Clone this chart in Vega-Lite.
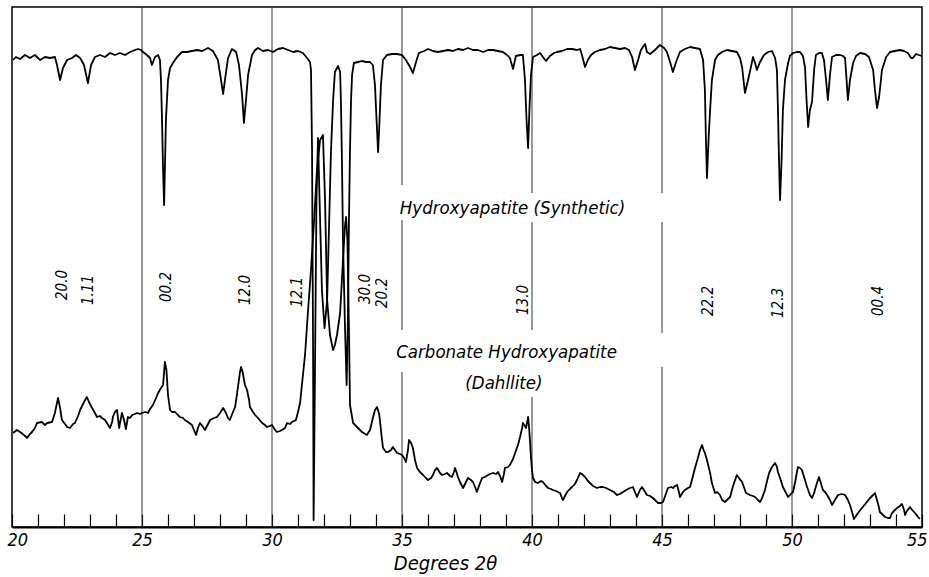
{
"$schema": "https://vega.github.io/schema/vega-lite/v6.json",
"width": 910, "height": 520,
"autosize": "none",
"padding": {"left": 12, "top": 7, "right": 7, "bottom": 50},
"background": "white",
"config": {"view": {"stroke": "black", "strokeWidth": 1.5}, "font": "DejaVu Sans Condensed, DejaVu Sans, sans-serif"},
"datasets": {
"grid": [
{"x":25,"y":0,"y2":520},{"x":30,"y":0,"y2":520},
{"x":35,"y":342,"y2":520},{"x":35,"y":197,"y2":307},{"x":35,"y":0,"y2":155},
{"x":40,"y":334,"y2":520},{"x":40,"y":197,"y2":305},{"x":40,"y":0,"y2":130},
{"x":45,"y":334,"y2":520},{"x":45,"y":194,"y2":305},{"x":45,"y":0,"y2":160},
{"x":50,"y":0,"y2":520}
],
"names": [
{"t":"Hydroxyapatite (Synthetic)","x":39.25,"y":319},
{"t":"Carbonate Hydroxyapatite","x":39.02,"y":175},
{"t":"(Dahllite)","x":38.92,"y":144}
],
"hkl": [
{"t":"20.0","x":21.92,"y":242},
{"t":"1.11","x":22.92,"y":237},
{"t":"00.2","x":25.92,"y":240},
{"t":"12.0","x":28.96,"y":237},
{"t":"12.1","x":30.96,"y":235},
{"t":"30.0","x":33.58,"y":238},
{"t":"20.2","x":34.23,"y":234},
{"t":"13.0","x":39.65,"y":227},
{"t":"22.2","x":46.77,"y":226},
{"t":"12.3","x":49.46,"y":224},
{"t":"00.4","x":53.31,"y":226}
],
"curves": [
{"s":"H","x":20.04,"y":467},{"s":"H","x":20.15,"y":470},{"s":"H","x":20.31,"y":468},{"s":"H","x":20.50,"y":472},{"s":"H","x":20.69,"y":469},{"s":"H","x":20.88,"y":472},{"s":"H","x":21.08,"y":467},{"s":"H","x":21.27,"y":470},{"s":"H","x":21.46,"y":469},{"s":"H","x":21.65,"y":470},{"s":"H","x":21.73,"y":462},{"s":"H","x":21.85,"y":447},{"s":"H","x":21.96,"y":459},{"s":"H","x":22.12,"y":467},{"s":"H","x":22.31,"y":469},{"s":"H","x":22.46,"y":472},{"s":"H","x":22.62,"y":469},{"s":"H","x":22.77,"y":462},{"s":"H","x":22.92,"y":444},{"s":"H","x":23.04,"y":462},{"s":"H","x":23.19,"y":470},{"s":"H","x":23.38,"y":472},{"s":"H","x":23.58,"y":470},{"s":"H","x":23.77,"y":474},{"s":"H","x":23.96,"y":472},{"s":"H","x":24.15,"y":474},{"s":"H","x":24.35,"y":472},{"s":"H","x":24.54,"y":475},{"s":"H","x":24.73,"y":477},{"s":"H","x":24.85,"y":478},{"s":"H","x":24.96,"y":477},{"s":"H","x":25.04,"y":475},{"s":"H","x":25.19,"y":472},{"s":"H","x":25.31,"y":469},{"s":"H","x":25.38,"y":462},{"s":"H","x":25.50,"y":470},{"s":"H","x":25.62,"y":472},{"s":"H","x":25.69,"y":467},{"s":"H","x":25.73,"y":447},{"s":"H","x":25.77,"y":407},{"s":"H","x":25.81,"y":357},{"s":"H","x":25.85,"y":322},{"s":"H","x":25.88,"y":357},{"s":"H","x":25.92,"y":407},{"s":"H","x":26.00,"y":447},{"s":"H","x":26.08,"y":459},{"s":"H","x":26.19,"y":464},{"s":"H","x":26.35,"y":470},{"s":"H","x":26.54,"y":475},{"s":"H","x":26.73,"y":475},{"s":"H","x":26.92,"y":476},{"s":"H","x":27.12,"y":477},{"s":"H","x":27.31,"y":476},{"s":"H","x":27.54,"y":479},{"s":"H","x":27.73,"y":476},{"s":"H","x":27.92,"y":467},{"s":"H","x":28.04,"y":447},{"s":"H","x":28.12,"y":433},{"s":"H","x":28.19,"y":447},{"s":"H","x":28.31,"y":469},{"s":"H","x":28.46,"y":478},{"s":"H","x":28.62,"y":475},{"s":"H","x":28.73,"y":462},{"s":"H","x":28.85,"y":432},{"s":"H","x":28.92,"y":404},{"s":"H","x":29.00,"y":427},{"s":"H","x":29.08,"y":452},{"s":"H","x":29.23,"y":472},{"s":"H","x":29.35,"y":477},{"s":"H","x":29.46,"y":479},{"s":"H","x":29.65,"y":476},{"s":"H","x":29.85,"y":477},{"s":"H","x":30.04,"y":475},{"s":"H","x":30.23,"y":478},{"s":"H","x":30.42,"y":479},{"s":"H","x":30.62,"y":477},{"s":"H","x":30.81,"y":475},{"s":"H","x":31.00,"y":476},{"s":"H","x":31.19,"y":474},{"s":"H","x":31.35,"y":469},{"s":"H","x":31.46,"y":465},{"s":"H","x":31.50,"y":457},{"s":"H","x":31.54,"y":377},{"s":"H","x":31.58,"y":177},{"s":"H","x":31.60,"y":7},{"s":"H","x":31.65,"y":147},{"s":"H","x":31.71,"y":327},{"s":"H","x":31.77,"y":389},{"s":"H","x":31.83,"y":327},{"s":"H","x":31.92,"y":237},{"s":"H","x":32.02,"y":199},{"s":"H","x":32.12,"y":227},{"s":"H","x":32.19,"y":297},{"s":"H","x":32.27,"y":377},{"s":"H","x":32.35,"y":427},{"s":"H","x":32.42,"y":455},{"s":"H","x":32.54,"y":461},{"s":"H","x":32.62,"y":455},{"s":"H","x":32.65,"y":427},{"s":"H","x":32.69,"y":367},{"s":"H","x":32.73,"y":287},{"s":"H","x":32.81,"y":197},{"s":"H","x":32.87,"y":142},{"s":"H","x":32.92,"y":207},{"s":"H","x":32.96,"y":307},{"s":"H","x":33.00,"y":377},{"s":"H","x":33.04,"y":427},{"s":"H","x":33.08,"y":452},{"s":"H","x":33.15,"y":464},{"s":"H","x":33.31,"y":465},{"s":"H","x":33.46,"y":466},{"s":"H","x":33.62,"y":465},{"s":"H","x":33.77,"y":465},{"s":"H","x":33.88,"y":462},{"s":"H","x":33.96,"y":442},{"s":"H","x":34.04,"y":397},{"s":"H","x":34.08,"y":375},{"s":"H","x":34.12,"y":397},{"s":"H","x":34.19,"y":442},{"s":"H","x":34.27,"y":467},{"s":"H","x":34.42,"y":472},{"s":"H","x":34.62,"y":473},{"s":"H","x":34.81,"y":473},{"s":"H","x":35.00,"y":472},{"s":"H","x":35.15,"y":467},{"s":"H","x":35.31,"y":460},{"s":"H","x":35.42,"y":454},{"s":"H","x":35.54,"y":465},{"s":"H","x":35.65,"y":474},{"s":"H","x":35.85,"y":476},{"s":"H","x":36.00,"y":478},{"s":"H","x":36.19,"y":476},{"s":"H","x":36.38,"y":475},{"s":"H","x":36.58,"y":476},{"s":"H","x":36.77,"y":477},{"s":"H","x":36.96,"y":476},{"s":"H","x":37.15,"y":478},{"s":"H","x":37.35,"y":477},{"s":"H","x":37.54,"y":479},{"s":"H","x":37.73,"y":477},{"s":"H","x":37.92,"y":477},{"s":"H","x":38.12,"y":475},{"s":"H","x":38.31,"y":477},{"s":"H","x":38.50,"y":477},{"s":"H","x":38.69,"y":476},{"s":"H","x":38.88,"y":475},{"s":"H","x":39.04,"y":472},{"s":"H","x":39.15,"y":469},{"s":"H","x":39.27,"y":458},{"s":"H","x":39.38,"y":471},{"s":"H","x":39.54,"y":472},{"s":"H","x":39.65,"y":472},{"s":"H","x":39.73,"y":447},{"s":"H","x":39.79,"y":407},{"s":"H","x":39.85,"y":379},{"s":"H","x":39.90,"y":417},{"s":"H","x":39.96,"y":452},{"s":"H","x":40.04,"y":470},{"s":"H","x":40.19,"y":472},{"s":"H","x":40.31,"y":474},{"s":"H","x":40.42,"y":470},{"s":"H","x":40.54,"y":466},{"s":"H","x":40.69,"y":471},{"s":"H","x":40.85,"y":474},{"s":"H","x":40.96,"y":475},{"s":"H","x":41.15,"y":476},{"s":"H","x":41.35,"y":478},{"s":"H","x":41.54,"y":478},{"s":"H","x":41.73,"y":477},{"s":"H","x":41.85,"y":478},{"s":"H","x":41.92,"y":472},{"s":"H","x":42.04,"y":460},{"s":"H","x":42.15,"y":467},{"s":"H","x":42.27,"y":472},{"s":"H","x":42.42,"y":475},{"s":"H","x":42.62,"y":477},{"s":"H","x":42.81,"y":478},{"s":"H","x":43.00,"y":480},{"s":"H","x":43.19,"y":479},{"s":"H","x":43.38,"y":478},{"s":"H","x":43.58,"y":479},{"s":"H","x":43.73,"y":477},{"s":"H","x":43.85,"y":470},{"s":"H","x":43.96,"y":457},{"s":"H","x":44.08,"y":467},{"s":"H","x":44.19,"y":477},{"s":"H","x":44.27,"y":480},{"s":"H","x":44.35,"y":483},{"s":"H","x":44.42,"y":475},{"s":"H","x":44.54,"y":473},{"s":"H","x":44.73,"y":477},{"s":"H","x":44.92,"y":482},{"s":"H","x":45.08,"y":479},{"s":"H","x":45.19,"y":475},{"s":"H","x":45.31,"y":465},{"s":"H","x":45.42,"y":455},{"s":"H","x":45.54,"y":465},{"s":"H","x":45.69,"y":475},{"s":"H","x":45.88,"y":478},{"s":"H","x":46.08,"y":480},{"s":"H","x":46.27,"y":479},{"s":"H","x":46.46,"y":478},{"s":"H","x":46.58,"y":467},{"s":"H","x":46.65,"y":437},{"s":"H","x":46.69,"y":387},{"s":"H","x":46.73,"y":349},{"s":"H","x":46.79,"y":387},{"s":"H","x":46.85,"y":417},{"s":"H","x":46.92,"y":447},{"s":"H","x":47.04,"y":467},{"s":"H","x":47.15,"y":472},{"s":"H","x":47.31,"y":475},{"s":"H","x":47.50,"y":477},{"s":"H","x":47.69,"y":476},{"s":"H","x":47.88,"y":475},{"s":"H","x":48.00,"y":469},{"s":"H","x":48.08,"y":460},{"s":"H","x":48.19,"y":434},{"s":"H","x":48.31,"y":447},{"s":"H","x":48.38,"y":455},{"s":"H","x":48.46,"y":465},{"s":"H","x":48.50,"y":470},{"s":"H","x":48.58,"y":464},{"s":"H","x":48.65,"y":457},{"s":"H","x":48.77,"y":465},{"s":"H","x":48.92,"y":472},{"s":"H","x":49.08,"y":475},{"s":"H","x":49.23,"y":476},{"s":"H","x":49.35,"y":469},{"s":"H","x":49.42,"y":457},{"s":"H","x":49.46,"y":417},{"s":"H","x":49.50,"y":367},{"s":"H","x":49.54,"y":327},{"s":"H","x":49.60,"y":367},{"s":"H","x":49.65,"y":417},{"s":"H","x":49.73,"y":447},{"s":"H","x":49.85,"y":464},{"s":"H","x":49.92,"y":471},{"s":"H","x":50.04,"y":474},{"s":"H","x":50.19,"y":475},{"s":"H","x":50.31,"y":475},{"s":"H","x":50.42,"y":471},{"s":"H","x":50.50,"y":460},{"s":"H","x":50.56,"y":427},{"s":"H","x":50.62,"y":400},{"s":"H","x":50.69,"y":417},{"s":"H","x":50.77,"y":425},{"s":"H","x":50.85,"y":457},{"s":"H","x":50.92,"y":472},{"s":"H","x":51.04,"y":474},{"s":"H","x":51.15,"y":474},{"s":"H","x":51.23,"y":467},{"s":"H","x":51.31,"y":447},{"s":"H","x":51.38,"y":427},{"s":"H","x":51.46,"y":452},{"s":"H","x":51.54,"y":470},{"s":"H","x":51.69,"y":472},{"s":"H","x":51.85,"y":472},{"s":"H","x":51.96,"y":471},{"s":"H","x":52.04,"y":469},{"s":"H","x":52.10,"y":447},{"s":"H","x":52.15,"y":427},{"s":"H","x":52.23,"y":447},{"s":"H","x":52.35,"y":464},{"s":"H","x":52.46,"y":471},{"s":"H","x":52.62,"y":474},{"s":"H","x":52.81,"y":473},{"s":"H","x":52.96,"y":470},{"s":"H","x":53.12,"y":457},{"s":"H","x":53.19,"y":437},{"s":"H","x":53.27,"y":419},{"s":"H","x":53.35,"y":430},{"s":"H","x":53.46,"y":457},{"s":"H","x":53.62,"y":470},{"s":"H","x":53.77,"y":475},{"s":"H","x":53.96,"y":476},{"s":"H","x":54.15,"y":477},{"s":"H","x":54.31,"y":476},{"s":"H","x":54.46,"y":474},{"s":"H","x":54.58,"y":469},{"s":"H","x":54.65,"y":469},{"s":"H","x":54.77,"y":473},{"s":"H","x":54.88,"y":472},{"s":"H","x":55.00,"y":471},
{"s":"C","x":20.04,"y":94},{"s":"C","x":20.19,"y":97},{"s":"C","x":20.31,"y":95},{"s":"C","x":20.46,"y":92},{"s":"C","x":20.58,"y":89},{"s":"C","x":20.69,"y":93},{"s":"C","x":20.77,"y":95},{"s":"C","x":20.88,"y":99},{"s":"C","x":20.96,"y":104},{"s":"C","x":21.15,"y":105},{"s":"C","x":21.27,"y":102},{"s":"C","x":21.35,"y":104},{"s":"C","x":21.54,"y":105},{"s":"C","x":21.65,"y":114},{"s":"C","x":21.77,"y":129},{"s":"C","x":21.85,"y":119},{"s":"C","x":21.92,"y":107},{"s":"C","x":22.04,"y":103},{"s":"C","x":22.12,"y":100},{"s":"C","x":22.23,"y":99},{"s":"C","x":22.35,"y":103},{"s":"C","x":22.42,"y":104},{"s":"C","x":22.54,"y":111},{"s":"C","x":22.62,"y":117},{"s":"C","x":22.77,"y":125},{"s":"C","x":22.88,"y":130},{"s":"C","x":22.96,"y":125},{"s":"C","x":23.08,"y":119},{"s":"C","x":23.19,"y":114},{"s":"C","x":23.27,"y":110},{"s":"C","x":23.38,"y":111},{"s":"C","x":23.46,"y":109},{"s":"C","x":23.58,"y":107},{"s":"C","x":23.65,"y":104},{"s":"C","x":23.77,"y":99},{"s":"C","x":23.85,"y":105},{"s":"C","x":23.88,"y":110},{"s":"C","x":23.96,"y":115},{"s":"C","x":24.04,"y":117},{"s":"C","x":24.12,"y":99},{"s":"C","x":24.19,"y":109},{"s":"C","x":24.23,"y":114},{"s":"C","x":24.31,"y":107},{"s":"C","x":24.38,"y":98},{"s":"C","x":24.46,"y":110},{"s":"C","x":24.54,"y":109},{"s":"C","x":24.62,"y":112},{"s":"C","x":24.73,"y":113},{"s":"C","x":24.81,"y":114},{"s":"C","x":24.92,"y":113},{"s":"C","x":25.00,"y":114},{"s":"C","x":25.12,"y":115},{"s":"C","x":25.23,"y":114},{"s":"C","x":25.31,"y":118},{"s":"C","x":25.42,"y":122},{"s":"C","x":25.54,"y":129},{"s":"C","x":25.62,"y":134},{"s":"C","x":25.73,"y":139},{"s":"C","x":25.81,"y":142},{"s":"C","x":25.85,"y":155},{"s":"C","x":25.88,"y":165},{"s":"C","x":25.94,"y":157},{"s":"C","x":26.00,"y":132},{"s":"C","x":26.08,"y":117},{"s":"C","x":26.15,"y":115},{"s":"C","x":26.27,"y":115},{"s":"C","x":26.38,"y":112},{"s":"C","x":26.46,"y":110},{"s":"C","x":26.58,"y":109},{"s":"C","x":26.65,"y":107},{"s":"C","x":26.77,"y":105},{"s":"C","x":26.92,"y":102},{"s":"C","x":27.00,"y":97},{"s":"C","x":27.08,"y":92},{"s":"C","x":27.15,"y":99},{"s":"C","x":27.23,"y":104},{"s":"C","x":27.35,"y":100},{"s":"C","x":27.42,"y":97},{"s":"C","x":27.54,"y":103},{"s":"C","x":27.62,"y":107},{"s":"C","x":27.77,"y":109},{"s":"C","x":27.88,"y":110},{"s":"C","x":28.00,"y":114},{"s":"C","x":28.12,"y":119},{"s":"C","x":28.23,"y":114},{"s":"C","x":28.31,"y":109},{"s":"C","x":28.38,"y":107},{"s":"C","x":28.50,"y":115},{"s":"C","x":28.58,"y":120},{"s":"C","x":28.65,"y":132},{"s":"C","x":28.69,"y":140},{"s":"C","x":28.77,"y":155},{"s":"C","x":28.81,"y":160},{"s":"C","x":28.87,"y":155},{"s":"C","x":28.96,"y":142},{"s":"C","x":29.04,"y":137},{"s":"C","x":29.12,"y":127},{"s":"C","x":29.15,"y":120},{"s":"C","x":29.27,"y":115},{"s":"C","x":29.35,"y":112},{"s":"C","x":29.46,"y":109},{"s":"C","x":29.62,"y":104},{"s":"C","x":29.73,"y":102},{"s":"C","x":29.81,"y":100},{"s":"C","x":29.92,"y":101},{"s":"C","x":30.00,"y":102},{"s":"C","x":30.12,"y":97},{"s":"C","x":30.19,"y":95},{"s":"C","x":30.31,"y":96},{"s":"C","x":30.38,"y":97},{"s":"C","x":30.50,"y":99},{"s":"C","x":30.58,"y":104},{"s":"C","x":30.69,"y":103},{"s":"C","x":30.77,"y":105},{"s":"C","x":30.85,"y":106},{"s":"C","x":30.92,"y":107},{"s":"C","x":31.00,"y":115},{"s":"C","x":31.08,"y":124},{"s":"C","x":31.19,"y":152},{"s":"C","x":31.27,"y":172},{"s":"C","x":31.38,"y":214},{"s":"C","x":31.50,"y":257},{"s":"C","x":31.62,"y":307},{"s":"C","x":31.73,"y":357},{"s":"C","x":31.85,"y":387},{"s":"C","x":31.96,"y":392},{"s":"C","x":32.04,"y":327},{"s":"C","x":32.12,"y":227},{"s":"C","x":32.23,"y":192},{"s":"C","x":32.35,"y":177},{"s":"C","x":32.42,"y":182},{"s":"C","x":32.50,"y":192},{"s":"C","x":32.62,"y":214},{"s":"C","x":32.73,"y":267},{"s":"C","x":32.81,"y":302},{"s":"C","x":32.85,"y":310},{"s":"C","x":32.90,"y":287},{"s":"C","x":32.96,"y":197},{"s":"C","x":33.00,"y":122},{"s":"C","x":33.12,"y":104},{"s":"C","x":33.27,"y":100},{"s":"C","x":33.46,"y":95},{"s":"C","x":33.65,"y":92},{"s":"C","x":33.77,"y":97},{"s":"C","x":33.88,"y":109},{"s":"C","x":33.96,"y":117},{"s":"C","x":34.04,"y":120},{"s":"C","x":34.12,"y":113},{"s":"C","x":34.15,"y":107},{"s":"C","x":34.21,"y":92},{"s":"C","x":34.27,"y":79},{"s":"C","x":34.38,"y":75},{"s":"C","x":34.46,"y":75},{"s":"C","x":34.58,"y":77},{"s":"C","x":34.65,"y":80},{"s":"C","x":34.73,"y":77},{"s":"C","x":34.81,"y":74},{"s":"C","x":34.92,"y":73},{"s":"C","x":35.00,"y":72},{"s":"C","x":35.08,"y":69},{"s":"C","x":35.15,"y":65},{"s":"C","x":35.23,"y":77},{"s":"C","x":35.27,"y":87},{"s":"C","x":35.35,"y":84},{"s":"C","x":35.42,"y":79},{"s":"C","x":35.50,"y":67},{"s":"C","x":35.58,"y":59},{"s":"C","x":35.69,"y":55},{"s":"C","x":35.81,"y":52},{"s":"C","x":35.92,"y":49},{"s":"C","x":36.00,"y":47},{"s":"C","x":36.12,"y":49},{"s":"C","x":36.19,"y":52},{"s":"C","x":36.27,"y":57},{"s":"C","x":36.35,"y":59},{"s":"C","x":36.46,"y":54},{"s":"C","x":36.54,"y":52},{"s":"C","x":36.65,"y":53},{"s":"C","x":36.73,"y":54},{"s":"C","x":36.85,"y":51},{"s":"C","x":36.92,"y":50},{"s":"C","x":37.00,"y":55},{"s":"C","x":37.04,"y":59},{"s":"C","x":37.12,"y":53},{"s":"C","x":37.15,"y":50},{"s":"C","x":37.23,"y":45},{"s":"C","x":37.35,"y":39},{"s":"C","x":37.46,"y":45},{"s":"C","x":37.54,"y":49},{"s":"C","x":37.65,"y":47},{"s":"C","x":37.73,"y":45},{"s":"C","x":37.81,"y":40},{"s":"C","x":37.88,"y":35},{"s":"C","x":37.96,"y":41},{"s":"C","x":38.08,"y":49},{"s":"C","x":38.19,"y":50},{"s":"C","x":38.31,"y":52},{"s":"C","x":38.38,"y":53},{"s":"C","x":38.50,"y":54},{"s":"C","x":38.62,"y":53},{"s":"C","x":38.69,"y":55},{"s":"C","x":38.77,"y":51},{"s":"C","x":38.85,"y":45},{"s":"C","x":38.92,"y":53},{"s":"C","x":38.96,"y":59},{"s":"C","x":39.08,"y":60},{"s":"C","x":39.15,"y":62},{"s":"C","x":39.27,"y":68},{"s":"C","x":39.35,"y":74},{"s":"C","x":39.46,"y":82},{"s":"C","x":39.54,"y":90},{"s":"C","x":39.62,"y":99},{"s":"C","x":39.65,"y":104},{"s":"C","x":39.73,"y":101},{"s":"C","x":39.77,"y":99},{"s":"C","x":39.83,"y":107},{"s":"C","x":39.85,"y":110},{"s":"C","x":39.88,"y":102},{"s":"C","x":39.92,"y":87},{"s":"C","x":39.96,"y":70},{"s":"C","x":40.00,"y":57},{"s":"C","x":40.04,"y":49},{"s":"C","x":40.12,"y":45},{"s":"C","x":40.23,"y":44},{"s":"C","x":40.35,"y":46},{"s":"C","x":40.42,"y":45},{"s":"C","x":40.54,"y":41},{"s":"C","x":40.62,"y":39},{"s":"C","x":40.73,"y":38},{"s":"C","x":40.81,"y":37},{"s":"C","x":40.92,"y":36},{"s":"C","x":41.00,"y":35},{"s":"C","x":41.08,"y":34},{"s":"C","x":41.15,"y":29},{"s":"C","x":41.19,"y":27},{"s":"C","x":41.27,"y":31},{"s":"C","x":41.35,"y":35},{"s":"C","x":41.46,"y":38},{"s":"C","x":41.54,"y":40},{"s":"C","x":41.65,"y":43},{"s":"C","x":41.73,"y":47},{"s":"C","x":41.85,"y":54},{"s":"C","x":41.92,"y":53},{"s":"C","x":42.04,"y":50},{"s":"C","x":42.15,"y":46},{"s":"C","x":42.23,"y":44},{"s":"C","x":42.35,"y":41},{"s":"C","x":42.50,"y":39},{"s":"C","x":42.62,"y":40},{"s":"C","x":42.73,"y":40},{"s":"C","x":42.85,"y":39},{"s":"C","x":43.00,"y":37},{"s":"C","x":43.15,"y":35},{"s":"C","x":43.27,"y":32},{"s":"C","x":43.38,"y":33},{"s":"C","x":43.50,"y":35},{"s":"C","x":43.62,"y":37},{"s":"C","x":43.77,"y":39},{"s":"C","x":43.88,"y":40},{"s":"C","x":43.96,"y":35},{"s":"C","x":44.04,"y":30},{"s":"C","x":44.15,"y":37},{"s":"C","x":44.23,"y":40},{"s":"C","x":44.35,"y":35},{"s":"C","x":44.42,"y":32},{"s":"C","x":44.54,"y":31},{"s":"C","x":44.65,"y":29},{"s":"C","x":44.77,"y":26},{"s":"C","x":44.85,"y":24},{"s":"C","x":44.96,"y":24},{"s":"C","x":45.04,"y":25},{"s":"C","x":45.12,"y":31},{"s":"C","x":45.23,"y":39},{"s":"C","x":45.35,"y":40},{"s":"C","x":45.42,"y":39},{"s":"C","x":45.50,"y":41},{"s":"C","x":45.58,"y":42},{"s":"C","x":45.65,"y":35},{"s":"C","x":45.69,"y":30},{"s":"C","x":45.81,"y":35},{"s":"C","x":45.88,"y":37},{"s":"C","x":46.00,"y":39},{"s":"C","x":46.08,"y":40},{"s":"C","x":46.19,"y":51},{"s":"C","x":46.27,"y":59},{"s":"C","x":46.38,"y":69},{"s":"C","x":46.46,"y":77},{"s":"C","x":46.54,"y":82},{"s":"C","x":46.60,"y":77},{"s":"C","x":46.65,"y":74},{"s":"C","x":46.73,"y":67},{"s":"C","x":46.85,"y":54},{"s":"C","x":46.92,"y":44},{"s":"C","x":47.04,"y":34},{"s":"C","x":47.12,"y":35},{"s":"C","x":47.23,"y":32},{"s":"C","x":47.31,"y":27},{"s":"C","x":47.42,"y":25},{"s":"C","x":47.50,"y":27},{"s":"C","x":47.62,"y":30},{"s":"C","x":47.69,"y":37},{"s":"C","x":47.77,"y":44},{"s":"C","x":47.88,"y":52},{"s":"C","x":47.96,"y":49},{"s":"C","x":48.08,"y":45},{"s":"C","x":48.15,"y":40},{"s":"C","x":48.23,"y":34},{"s":"C","x":48.31,"y":33},{"s":"C","x":48.38,"y":32},{"s":"C","x":48.50,"y":31},{"s":"C","x":48.58,"y":30},{"s":"C","x":48.69,"y":27},{"s":"C","x":48.77,"y":25},{"s":"C","x":48.85,"y":29},{"s":"C","x":48.96,"y":37},{"s":"C","x":49.04,"y":46},{"s":"C","x":49.12,"y":54},{"s":"C","x":49.23,"y":60},{"s":"C","x":49.35,"y":64},{"s":"C","x":49.42,"y":60},{"s":"C","x":49.46,"y":55},{"s":"C","x":49.54,"y":49},{"s":"C","x":49.65,"y":40},{"s":"C","x":49.77,"y":34},{"s":"C","x":49.85,"y":30},{"s":"C","x":49.96,"y":33},{"s":"C","x":50.04,"y":35},{"s":"C","x":50.12,"y":45},{"s":"C","x":50.19,"y":55},{"s":"C","x":50.23,"y":60},{"s":"C","x":50.31,"y":59},{"s":"C","x":50.38,"y":57},{"s":"C","x":50.50,"y":47},{"s":"C","x":50.58,"y":40},{"s":"C","x":50.69,"y":32},{"s":"C","x":50.77,"y":29},{"s":"C","x":50.85,"y":34},{"s":"C","x":50.88,"y":37},{"s":"C","x":50.96,"y":44},{"s":"C","x":51.04,"y":50},{"s":"C","x":51.12,"y":43},{"s":"C","x":51.19,"y":37},{"s":"C","x":51.27,"y":35},{"s":"C","x":51.35,"y":32},{"s":"C","x":51.46,"y":27},{"s":"C","x":51.54,"y":22},{"s":"C","x":51.65,"y":27},{"s":"C","x":51.77,"y":32},{"s":"C","x":51.92,"y":33},{"s":"C","x":52.04,"y":32},{"s":"C","x":52.15,"y":27},{"s":"C","x":52.23,"y":22},{"s":"C","x":52.31,"y":15},{"s":"C","x":52.38,"y":8},{"s":"C","x":52.46,"y":11},{"s":"C","x":52.54,"y":14},{"s":"C","x":52.69,"y":19},{"s":"C","x":52.85,"y":24},{"s":"C","x":53.00,"y":29},{"s":"C","x":53.12,"y":32},{"s":"C","x":53.19,"y":34},{"s":"C","x":53.27,"y":27},{"s":"C","x":53.35,"y":19},{"s":"C","x":53.38,"y":15},{"s":"C","x":53.50,"y":12},{"s":"C","x":53.58,"y":10},{"s":"C","x":53.69,"y":9},{"s":"C","x":53.77,"y":9},{"s":"C","x":53.83,"y":13},{"s":"C","x":53.88,"y":15},{"s":"C","x":53.96,"y":17},{"s":"C","x":54.04,"y":19},{"s":"C","x":54.15,"y":21},{"s":"C","x":54.23,"y":23},{"s":"C","x":54.31,"y":17},{"s":"C","x":54.35,"y":12},{"s":"C","x":54.42,"y":16},{"s":"C","x":54.54,"y":20},{"s":"C","x":54.62,"y":17},{"s":"C","x":54.73,"y":14},{"s":"C","x":54.85,"y":10},{"s":"C","x":54.92,"y":8}
]
},
"encoding": {
 "x": {"field": "x", "type": "quantitative",
       "scale": {"domain": [20, 55], "nice": false, "zero": false},
       "axis": {"values": [20,21,22,23,24,25,26,27,28,29,30,31,32,33,34,35,36,37,38,39,40,41,42,43,44,45,46,47,48,49,50,51,52,53,54,55],
                "labelExpr": "datum.value % 5 === 0 ? datum.label : ''",
                "tickSize": -13, "tickColor": "black", "tickWidth": 1.2,
                "domainColor": "black", "domainWidth": 2,
                "labelFontSize": 18, "labelFontStyle": "italic", "labelColor": "black",
                "labelPadding": 17, "labelFlush": true, "labelFlushOffset": 5,
                "title": "Degrees 2θ", "titleFontSize": 20, "titleFontStyle": "italic",
                "titleFontWeight": "normal", "titleColor": "black",
                "titleX": 433, "titleY": 36, "titleBaseline": "middle", "titleAlign": "center",
                "grid": false}},
 "y": {"field": "y", "type": "quantitative", "scale": {"domain": [0, 520], "nice": false, "zero": false}, "axis": null}
},
"layer": [
{"data": {"name": "grid"},
 "mark": {"type": "rule", "color": "#333333", "strokeWidth": 1},
 "encoding": {"y2": {"field": "y2"}}},
{"data": {"name": "curves"},
 "mark": {"type": "line", "color": "black", "strokeWidth": 1.8, "strokeJoin": "round"},
 "encoding": {"detail": {"field": "s"}}},
{"data": {"name": "names"},
 "mark": {"type": "text", "fontStyle": "italic", "fontSize": 18.5, "align": "center", "baseline": "middle", "color": "black"},
 "encoding": {"text": {"field": "t"}}},
{"data": {"name": "hkl"},
 "mark": {"type": "text", "angle": 270, "fontStyle": "italic", "fontSize": 15, "align": "center", "baseline": "middle", "color": "black"},
 "encoding": {"text": {"field": "t"}}}
]
}
